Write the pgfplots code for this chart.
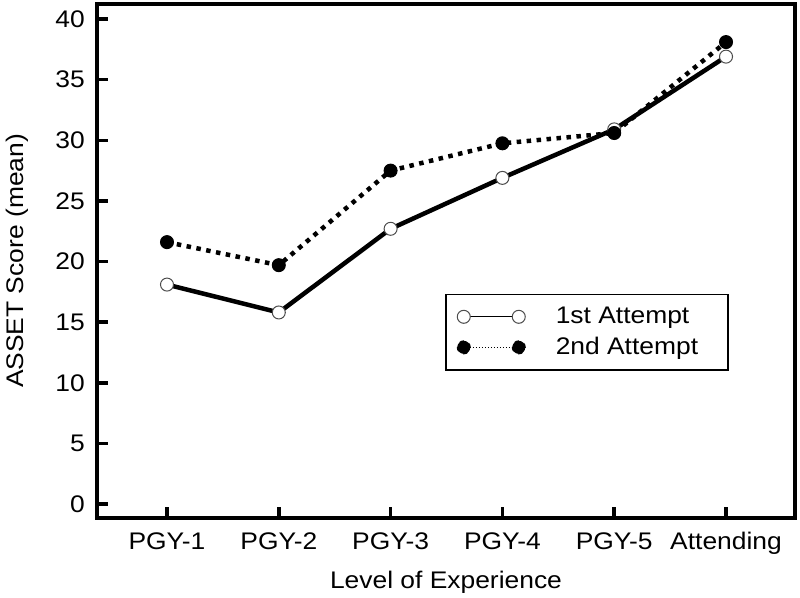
\documentclass[border=0pt]{standalone}
\usepackage{pgfplots}
\pgfplotsset{compat=1.18}
\usepackage{fontspec}
\setmainfont{Liberation Sans}[FakeStretch=1.1]
\begin{document}
\fontsize{24}{29}\selectfont
\begin{tikzpicture}
\begin{axis}[
  name=ax,
  scale only axis, width=698pt, height=514pt,
  xmin=-0.626, xmax=5.617, ymin=-1.15, ymax=41.24,
  xtick={0,...,5}, xticklabels={PGY-1,PGY-2,PGY-3,PGY-4,PGY-5,Attending},
  ytick={0,5,...,40},
  xtick pos=bottom, ytick pos=left, tick align=inside,
  major tick length=11pt,
  axis line style={line width=4pt},
  every tick/.style={black,line width=3.5pt},
  ticklabel style={font=\fontsize{24}{29}\selectfont, inner sep=0pt},
  xticklabel style={anchor=base, yshift=-31pt},
  yticklabel style={anchor=east, xshift=-12pt},
  xlabel={Level of Experience}, ylabel={ASSET Score (mean)},
  xlabel style={at={(axis description cs:0.5,0)}, anchor=base, yshift=-70pt, inner sep=0pt, font=\fontsize{24}{29}\selectfont},
  ylabel style={at={(axis description cs:-0.106,0.5)}, anchor=base, inner sep=0pt, font=\fontsize{24}{29}\selectfont},
  /pgf/number format/assume math mode=true,
  legend style={at={(axis description cs:0.4986,0.4358)}, anchor=north west, draw=black, line width=1.5pt,
    font=\fontsize{24}{29}\selectfont, inner xsep=11pt, inner ysep=12pt,
    nodes={inner sep=0pt}, row sep=10pt, column sep=30pt},
  legend cell align=left,
]
\addplot[black, line width=4.5pt, mark=*, mark size=6.5pt,
  mark options={solid, fill=white, draw=black!70, line width=1pt},
  legend image code/.code={
    \draw[black, line width=1.2pt] (0pt,0pt) -- (55pt,0pt);
    \draw[fill=white, draw=black!70, line width=1pt] (0pt,0pt) circle (6.5pt) (55pt,0pt) circle (6.5pt);
  }]
  coordinates {(0,18.1) (1,15.8) (2,22.7) (3,26.9) (4,30.9) (5,36.9)};
\addlegendentry{1st Attempt}
\addplot[black, line width=4.5pt, dash pattern=on 4.5pt off 5.5pt, mark=*, mark size=6.5pt,
  mark options={solid, fill=black, draw=black, line width=1pt},
  legend image code/.code={
    \draw[black, line width=1.2pt, dash pattern=on 1.5pt off 1.5pt] (0pt,0pt) -- (55pt,0pt);
    \draw[fill=black, draw=black, line width=1pt] (0pt,0pt) circle (6.5pt) (55pt,0pt) circle (6.5pt);
  }]
  coordinates {(0,21.6) (1,19.7) (2,27.5) (3,29.75) (4,30.6) (5,38.1)};
\addlegendentry{2nd Attempt\hspace*{19pt}}
\end{axis}
\pgfresetboundingbox
\path[use as bounding box] (ax.south west) ++(-97pt,-79pt) rectangle ++(800pt,597pt);
\end{tikzpicture}
\end{document}
